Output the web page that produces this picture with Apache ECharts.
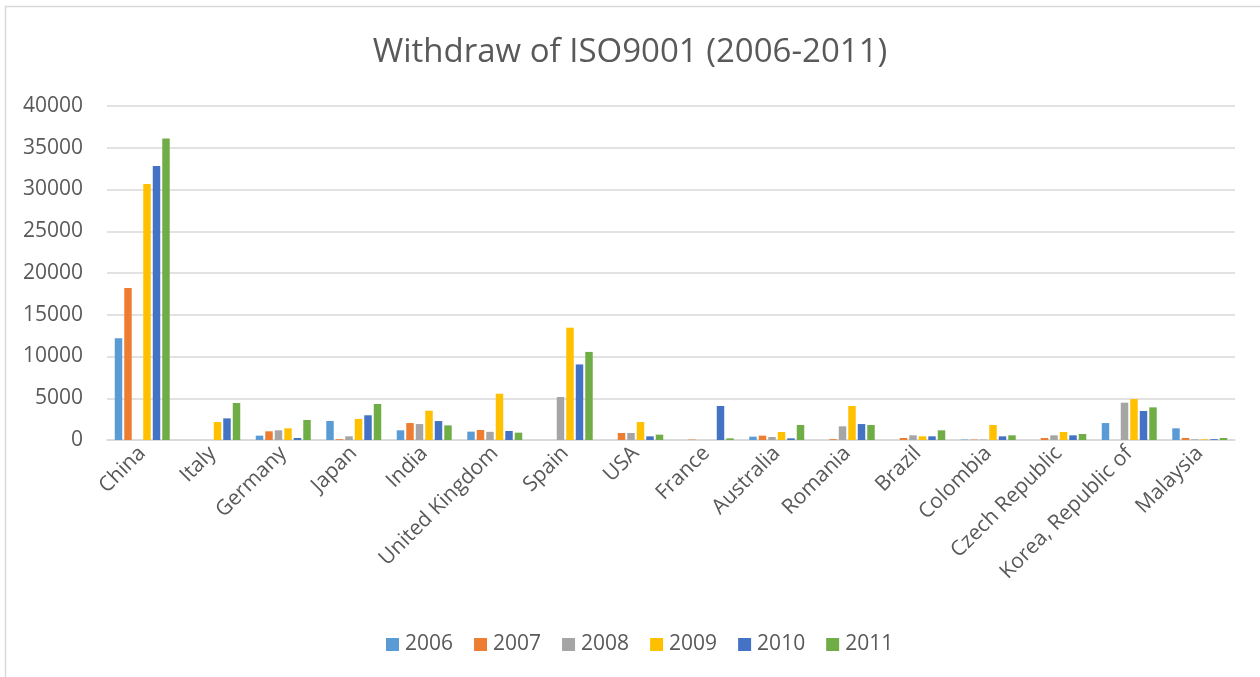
<!DOCTYPE html>
<html>
<head>
<meta charset="utf-8">
<script src="https://cdn.jsdelivr.net/npm/echarts@6/dist/echarts.min.js"></script>
<style>
  html, body { margin: 0; padding: 0; background: #fff; }
  #chart { width: 1260px; height: 677px; }
</style>
</head>
<body>
<div id="chart"></div>
<script>
// Countries on the category axis
const countries = ['China', 'Italy', 'Germany', 'Japan', 'India', 'United Kingdom', 'Spain', 'USA',
  'France', 'Australia', 'Romania', 'Brazil', 'Colombia', 'Czech Republic', 'Korea, Republic of', 'Malaysia'];

// Withdrawn ISO9001 certificates per year, one value per country
const y2006 = [12200, 0, 520, 2280, 1160, 1000, 0, 0, 0, 400, 0, 0, 50, 0, 2030, 1400];
const y2007 = [18200, 0, 1040, 100, 2030, 1200, 0, 840, 50, 520, 100, 240, 50, 240, 0, 240];
const y2008 = [0, 0, 1160, 440, 1910, 980, 5150, 840, 0, 360, 1640, 560, 50, 560, 4470, 80];
const y2009 = [30650, 2150, 1400, 2520, 3510, 5540, 13450, 2150, 0, 960, 4070, 440, 1800, 960, 4900, 80];
const y2010 = [32800, 2590, 240, 2960, 2270, 1080, 9050, 440, 4070, 200, 1910, 440, 440, 560, 3470, 100];
const y2011 = [36100, 4430, 2400, 4310, 1750, 880, 10550, 640, 200, 1800, 1800, 1160, 560, 720, 3910, 240];

const yearNames = ['2006', '2007', '2008', '2009', '2010', '2011'];
const yearValues = [y2006, y2007, y2008, y2009, y2010, y2011];
const yearColors = ['#5B9BD5', '#ED7D31', '#A5A5A5', '#FFC000', '#4472C4', '#70AD47'];

const FONT = 'Open Sans';
const TEXT = '#595959';

const chart = echarts.init(document.getElementById('chart'), null, { renderer: 'canvas' });

chart.setOption({
  backgroundColor: '#fff',
  animation: false,
  graphic: [{
    type: 'rect',
    shape: { x: 5.5, y: 6.5, width: 1300, height: 700 },
    style: { fill: 'none', stroke: '#d9d9d9', lineWidth: 1.5 },
    z: -1
  }],
  title: {
    text: 'Withdraw of ISO9001 (2006-2011)',
    left: 'center',
    top: 31,
    textStyle: { fontFamily: FONT, fontSize: 33, fontWeight: 'normal', color: TEXT }
  },
  legend: {
    bottom: 17,
    left: 381,
    itemWidth: 13,
    itemHeight: 13,
    itemGap: 21,
    icon: 'rect',
    textStyle: { fontFamily: FONT, fontSize: 21, color: TEXT, padding: [0, 0, 0, 1] },
    data: yearNames
  },
  grid: { left: 107, right: 25, top: 106, bottom: 237, containLabel: false },
  xAxis: {
    type: 'category',
    data: countries,
    axisTick: { show: false },
    axisLine: { lineStyle: { color: '#d9d9d9', width: 1.5 } },
    axisLabel: {
      interval: 0,
      rotate: 45,
      margin: 10,
      fontFamily: FONT,
      fontSize: 21,
      color: TEXT
    }
  },
  yAxis: {
    type: 'value',
    min: 0,
    max: 40000,
    interval: 5000,
    axisLine: { show: false },
    axisTick: { show: false },
    splitLine: { lineStyle: { color: '#d9d9d9', width: 1.5 } },
    axisLabel: {
      margin: 24,
      fontFamily: FONT,
      fontSize: 21,
      color: TEXT,
      formatter: v => String(v)
    }
  },
  series: yearNames.map((name, i) => ({
    name: name,
    type: 'bar',
    data: yearValues[i],
    barGap: '27%',
    barCategoryGap: '22%',
    itemStyle: { color: yearColors[i] }
  }))
});
</script>
</body>
</html>
